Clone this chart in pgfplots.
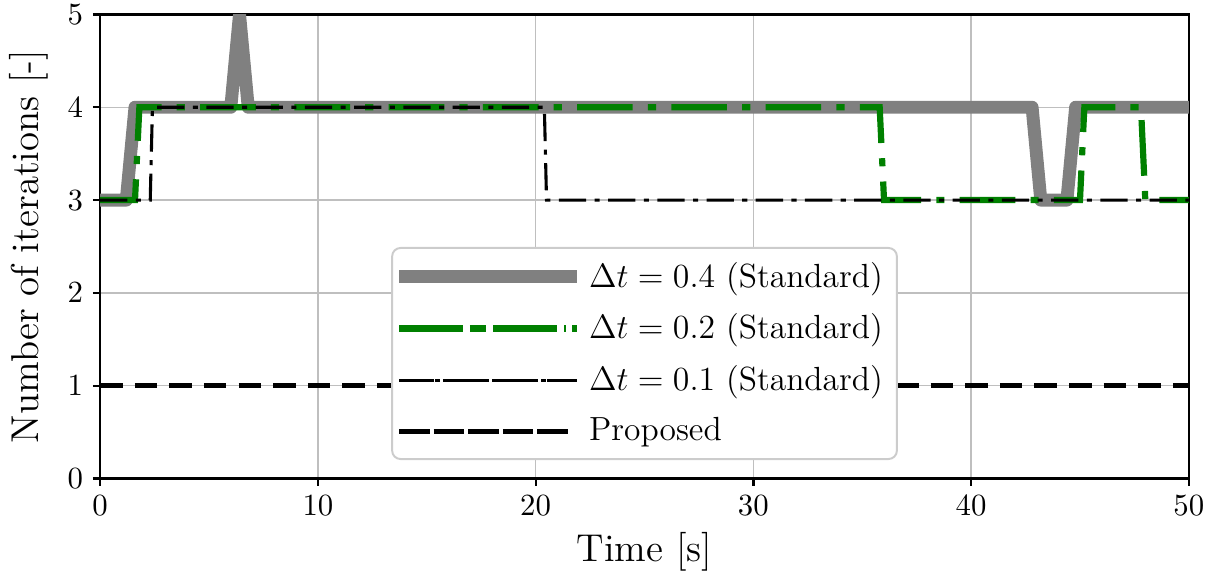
\documentclass[border=0pt]{standalone}
\usepackage{pgfplots}
\pgfplotsset{compat=1.18}
\begin{document}
\begin{tikzpicture}
\begin{axis}[
  scale only axis,
  width=387pt, height=165pt,
  xmin=0, xmax=50, ymin=0, ymax=5,
  xtick={0,10,20,30,40,50},
  ytick={0,1,2,3,4,5},
  grid=major,
  major grid style={gray!50, line width=0.5pt},
  tick align=outside,
  tick pos=left,
  major tick length=2.6pt,
  axis line style={line width=0.8pt},
  tick style={line width=0.8pt, black},
  tick label style={font=\fontsize{10.8}{13}\selectfont},
  yticklabel style={inner ysep=1.6pt},
  label style={font=\fontsize{13.8}{16}\selectfont},
  xlabel={Time [s]},
  ylabel={Number of iterations [-]},
  xlabel style={yshift=1pt},
  ylabel style={yshift=0pt},
  legend style={
    at={(0.5,0.04)}, anchor=south,
    font=\fontsize{11.9}{14}\selectfont,
    draw=gray!40, line width=0.7pt, rounded corners=3pt,
    fill=white, fill opacity=1, text opacity=1,
    row sep=4pt, inner sep=3pt,
  },
  legend cell align=left,
  legend image code/.code={\path (0pt,0pt) -- (60.4pt,0pt); \draw[#1, overlay] (-2.85pt,0pt) -- (56.5pt,0pt);},
  clip=true,
]
\addplot[gray, line width=4.6pt, line join=round] coordinates {
  (0,3) (1.2,3) (1.6,4) (6.0,4) (6.4,5) (6.8,4) (42.8,4) (43.2,3) (44.4,3) (44.8,4) (50,4)
};
\addlegendentry{$\Delta t = 0.4$ (Standard)}
\addplot[color={rgb,255:red,0;green,128;blue,0}, line width=2.2pt, dash pattern=on 19.8pt off 5.4pt on 2.9pt off 5.4pt] coordinates {
  (0,3) (1.6,3) (1.8,4) (35.8,4) (36.0,3) (45.0,3) (45.2,4) (47.8,4) (48.0,3) (50,3)
};
\addlegendentry{$\Delta t = 0.2$ (Standard)}
\addplot[black, line width=1.1pt, dash pattern=on 9.7pt off 3pt on 1.8pt off 3pt] coordinates {
  (0,3) (2.3,3) (2.4,4) (20.4,4) (20.5,3) (50,3)
};
\addlegendentry{$\Delta t = 0.1$ (Standard)}
\addplot[black, line width=1.8pt, dash pattern=on 8pt off 4.3pt] coordinates {
  (0,1) (50,1)
};
\addlegendentry{Proposed}
\end{axis}
\path (current bounding box.east) ++(1.2pt,0) coordinate (extra);
\end{tikzpicture}
\end{document}
